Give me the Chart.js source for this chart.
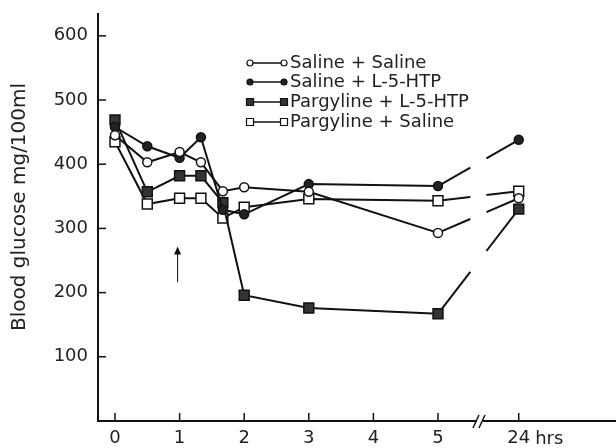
<!DOCTYPE html>
<html>
<head>
<meta charset="utf-8">
<script src="https://cdn.jsdelivr.net/npm/chart.js@4"></script>
<style>
  html, body { margin: 0; padding: 0; background: #fff; }
  canvas { display: block; }
</style>
</head>
<body>
<canvas id="chart" width="616" height="448"></canvas>
<script>
// --- Data ---
const hours = [0, 0.5, 1, 1.33, 1.67, 2, 3, 5, 24];
const salineSaline = [445, 403, 419, 403, 358, 364, 357, 293, 347];
const salineHtp = [458, 428, 410, 442, 329, 322, 369, 366, 438];
const pargylineHtp = [469, 357, 382, 382, 340, 196, 176, 167, 330];
const pargylineSaline = [435, 338, 347, 347, 316, 333, 346, 343, 358];
const yTicks = [100, 200, 300, 400, 500, 600];
const xTicks = [0, 1, 2, 3, 4, 5, 24];
const seriesNames = ['Saline + Saline', 'Saline + L-5-HTP', 'Pargyline + L-5-HTP', 'Pargyline + Saline'];
const yTitle = 'Blood glucose mg/100ml';

// the axis is broken between 5 and 24 hrs: 24 sits at 6.25 units
const BREAK_AT = 5.65;
const pos = h => (h > 5 ? 6.25 : h);

const INK = '#111';
const FONT = '"DejaVu Sans", sans-serif';
const WIDTH = 616;
const X_MIN = -0.263;
const PX_PER_HOUR = 64.6;

const styles = [
  { pointStyle: 'circle', fill: '#fff', r: 4.5 },
  { pointStyle: 'circle', fill: '#222', r: 4.5 },
  { pointStyle: 'rect', fill: '#333', r: 7 },
  { pointStyle: 'rect', fill: '#fff', r: 7 }
];

// last segment (5 -> 24 hrs) is drawn dash - gap - dash
const lastDash = ctx => {
  if (ctx.p1DataIndex !== hours.length - 1) return undefined;
  const L = Math.hypot(ctx.p1.x - ctx.p0.x, ctx.p1.y - ctx.p0.y);
  return [L * 0.4, L * 0.2];
};

const makeSet = (label, values, st) => ({
  label,
  data: hours.map((h, i) => ({ x: pos(h), y: values[i] })),
  borderColor: INK,
  borderWidth: 2,
  tension: 0,
  pointStyle: st.pointStyle,
  pointRadius: st.r,
  pointBackgroundColor: st.fill,
  pointBorderColor: INK,
  pointBorderWidth: 1.5,
  segment: { borderDash: lastDash }
});

// --- extra bits: inward ticks, axis break, arrow, "hrs", legend, y title ---
const extras = {
  id: 'extras',
  afterDraw(chart) {
    const { ctx, chartArea, scales: { x, y } } = chart;
    const line = (x1, y1, x2, y2) => { ctx.beginPath(); ctx.moveTo(x1, y1); ctx.lineTo(x2, y2); ctx.stroke(); };
    ctx.save();
    ctx.strokeStyle = INK;

    // x axis runs on to the edge of the picture
    ctx.lineWidth = 2;
    line(chartArea.right - 1, chartArea.bottom, WIDTH, chartArea.bottom);

    ctx.lineWidth = 1.5;
    yTicks.forEach(v => {
      const py = y.getPixelForValue(v);
      line(chartArea.left, py, chartArea.left + 8, py);
    });
    xTicks.forEach(h => {
      const px = x.getPixelForValue(pos(h));
      line(px, chartArea.bottom, px, chartArea.bottom - 8);
    });

    // axis break "//"
    const bx = x.getPixelForValue(BREAK_AT);
    const by = chartArea.bottom;
    ctx.fillStyle = '#fff';
    ctx.fillRect(bx - 3, by - 2, 6, 4);
    line(bx - 7, by + 7, bx - 1, by - 6);
    line(bx - 1, by + 7, bx + 5, by - 6);

    // injection arrow at 1 hr
    const ax = x.getPixelForValue(1) - 2;
    const aTop = y.getPixelForValue(272);
    const aBot = y.getPixelForValue(216);
    ctx.lineWidth = 1;
    line(ax, aBot, ax, aTop + 6);
    ctx.fillStyle = INK;
    ctx.beginPath();
    ctx.moveTo(ax, aTop);
    ctx.lineTo(ax - 3.5, aTop + 8);
    ctx.lineTo(ax + 3.5, aTop + 8);
    ctx.closePath();
    ctx.fill();

    // "hrs" after the 24 label
    ctx.font = '18px ' + FONT;
    ctx.fillStyle = '#222';
    ctx.textBaseline = 'middle';
    ctx.textAlign = 'left';
    const px24 = x.getPixelForValue(pos(24));
    ctx.fillText('hrs', px24 + ctx.measureText('24').width / 2 + 5, chartArea.bottom + 18);

    // legend
    const lx = chartArea.left + 152;
    const rows = [63, 82, 102, 122];
    seriesNames.forEach((name, i) => {
      const st = styles[i];
      const ry = rows[i];
      ctx.strokeStyle = INK;
      ctx.lineWidth = 1.5;
      line(lx, ry, lx + 34, ry);
      [lx, lx + 34].forEach(mx => {
        ctx.beginPath();
        if (st.pointStyle === 'circle') ctx.arc(mx, ry, 3, 0, Math.PI * 2);
        else ctx.rect(mx - 3.5, ry - 3.5, 7, 7);
        ctx.fillStyle = st.fill;
        ctx.fill();
        ctx.lineWidth = 1.2;
        ctx.stroke();
      });
      ctx.fillStyle = '#222';
      ctx.fillText(name, lx + 40, ry);
    });

    // y axis title
    ctx.translate(20, 207);
    ctx.rotate(-Math.PI / 2);
    ctx.textAlign = 'center';
    ctx.font = '20px ' + FONT;
    ctx.fillStyle = '#222';
    ctx.fillText(yTitle, 0, 0);
    ctx.restore();
  }
};

const chart = new Chart(document.getElementById('chart'), {
  type: 'line',
  data: {
    datasets: [
      makeSet(seriesNames[0], salineSaline, styles[0]),
      makeSet(seriesNames[1], salineHtp, styles[1]),
      makeSet(seriesNames[2], pargylineHtp, styles[2]),
      makeSet(seriesNames[3], pargylineSaline, styles[3])
    ]
  },
  options: {
    responsive: false,
    animation: false,
    layout: { padding: { top: 14, right: 0, bottom: 0, left: 0 } },
    plugins: { legend: { display: false }, tooltip: { enabled: false } },
    scales: {
      x: {
        type: 'linear',
        min: X_MIN,
        max: 7.75,
        afterFit: s => { s.height = 27; },
        afterBuildTicks: s => { s.ticks = xTicks.map(h => ({ value: pos(h) })); },
        grid: { display: false, drawTicks: false },
        border: { display: true, color: INK, width: 2 },
        ticks: {
          padding: 7,
          autoSkip: false,
          maxRotation: 0,
          color: '#222',
          font: { family: FONT, size: 18 },
          callback: v => { const i = xTicks.findIndex(h => pos(h) === v); return i < 0 ? '' : String(xTicks[i]); }
        }
      },
      y: {
        min: 0,
        max: 634,
        afterFit: s => { s.width = 98; s.paddingTop = 0; s.paddingBottom = 0; },
        afterBuildTicks: s => { s.ticks = yTicks.map(v => ({ value: v })); },
        grid: { display: false, drawTicks: false },
        border: { display: true, color: INK, width: 2 },
        ticks: {
          padding: 10,
          color: '#222',
          font: { family: FONT, size: 18 }
        }
      }
    }
  },
  plugins: [extras]
});

// keep one hour = PX_PER_HOUR pixels, whatever width the plot area got
const area = chart.chartArea;
chart.options.scales.x.max = X_MIN + (area.right - area.left) / PX_PER_HOUR;
chart.update();
</script>
</body>
</html>
